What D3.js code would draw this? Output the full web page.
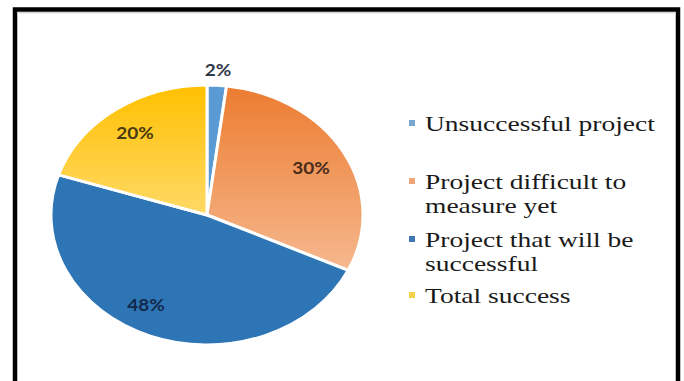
<!DOCTYPE html>
<html>
<head>
<meta charset="utf-8">
<script src="https://cdn.jsdelivr.net/npm/d3@7"></script>
<style>
  html, body { margin: 0; padding: 0; background: #ffffff; }
  svg { display: block; }
</style>
</head>
<body>
<svg id="chart" width="684" height="381"></svg>
<script>
// ---- data ----
const categories = ["Unsuccessful project", "Project difficult to measure yet", "Project that will be successful", "Total success"];
const values = [2, 30, 48, 20];
const valueLabels = ["2%", "30%", "48%", "20%"];
const legendLines = [["Unsuccessful project"], ["Project difficult to", "measure yet"], ["Project that will be", "successful"], ["Total success"]];
const colorsTop = ["#5b9bd5", "#ec7c30", "#2e75b6", "#ffc000"];
const colorsBottom = ["#5b9bd5", "#f6b88e", "#2e75b6", "#ffd966"];
const legendColors = ["#7aa6d4", "#f0a577", "#3e76b0", "#f2d24a"];
const labelColors = ["#303848", "#4a2c1c", "#13294b", "#4a3a10"];

// ---- layout ----
const W = 684, H = 381;
const cx = 207, cy = 215, R = 130, sx = 1.2;
const svg = d3.select("#chart");

// frame
svg.append("rect").attr("x", 0).attr("y", 0).attr("width", W).attr("height", H).attr("fill", "#ffffff");
svg.append("rect").attr("x", 15).attr("y", 9.5).attr("width", 663).attr("height", 400)
  .attr("fill", "#ffffff").attr("stroke", "#000000").attr("stroke-width", 4.5);
svg.append("line").attr("x1", 17).attr("x2", 676).attr("y1", 12.8).attr("y2", 12.8)
  .attr("stroke", "#d8d8d8").attr("stroke-width", 1.5);

// gradients
const defs = svg.append("defs");
values.forEach((v, i) => {
  const g = defs.append("linearGradient").attr("id", "grad" + i)
    .attr("x1", 0).attr("y1", 0).attr("x2", 0).attr("y2", 1);
  g.append("stop").attr("offset", "0%").attr("stop-color", colorsTop[i]);
  g.append("stop").attr("offset", "100%").attr("stop-color", colorsBottom[i]);
});

const pie = d3.pie().sort(null).value(d => d)(values);
const arc = d3.arc().innerRadius(0).outerRadius(R);

const pg = svg.append("g").attr("transform", `translate(${cx},${cy}) scale(${sx},1)`);
pg.selectAll("path").data(pie).join("path")
  .attr("d", arc)
  .attr("fill", (d, i) => `url(#grad${i})`)
  .attr("stroke", "#ffffff")
  .attr("stroke-width", 3)
  .attr("vector-effect", "non-scaling-stroke");

// value labels
const labelRadius = [146, 99, 103, 102];
const labelAngleNudge = [0, 0, 0.14, 0]; // radians
const lg = svg.append("g").attr("transform", `translate(${cx},${cy})`);
pie.forEach((d, i) => {
  const a = (d.startAngle + d.endAngle) / 2 + labelAngleNudge[i];
  const r = labelRadius[i];
  const x = Math.sin(a) * r * sx, y = -Math.cos(a) * r;
  lg.append("text")
    .attr("transform", `translate(${x},${y}) scale(1.15,1)`)
    .attr("text-anchor", "middle")
    .attr("dominant-baseline", "central")
    .attr("font-family", "Lato, 'Open Sans', sans-serif")
    .attr("font-weight", 700)
    .attr("font-size", 16.5)
    .attr("fill", labelColors[i])
    .text(valueLabels[i]);
});

// legend
const legendBaselines = [[131], [189, 213], [247, 271], [303]];
const leg = svg.append("g");
legendLines.forEach((lines, i) => {
  leg.append("rect")
    .attr("x", 409).attr("y", legendBaselines[i][0] - 11)
    .attr("width", 6).attr("height", 6)
    .attr("fill", legendColors[i]);
  lines.forEach((t, j) => {
    leg.append("text")
      .attr("class", "legtxt")
      .attr("x", 0).attr("y", 0)
      .attr("transform", `translate(425,${legendBaselines[i][j]})`)
      .attr("font-family", "'Liberation Serif', 'Times New Roman', serif")
      .attr("font-size", 21)
      .attr("fill", "#1a1a1a")
      .text(t);
  });
});
// horizontal stretch so the first legend line spans the same width as the reference
const first = leg.select(".legtxt").node();
const w = first.getComputedTextLength();
const legScale = 230 / w;
leg.selectAll(".legtxt").each(function () {
  const tr = d3.select(this).attr("transform");
  d3.select(this).attr("transform", tr + ` scale(${legScale},1)`);
});
</script>
</body>
</html>
